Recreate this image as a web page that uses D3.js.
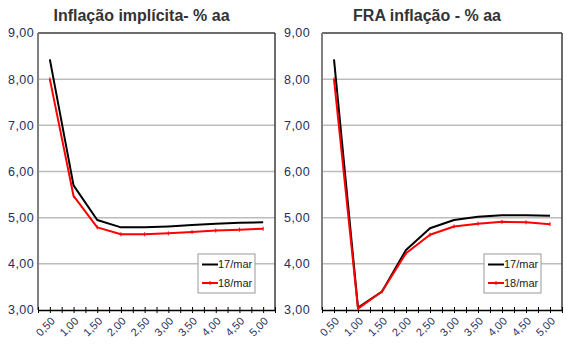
<!DOCTYPE html>
<html>
<head>
<meta charset="utf-8">
<script src="https://cdn.jsdelivr.net/npm/d3@7"></script>
<style>
  html, body { margin: 0; padding: 0; background: #fff; }
  svg { display: block; font-family: Arial, "Liberation Sans", sans-serif; }
</style>
</head>
<body>
<svg id="chart" width="567" height="348"></svg>
<script>
// Prazos (anos) e rótulos do eixo horizontal
const tenors = [0.5, 1.0, 1.5, 2.0, 2.5, 3.0, 3.5, 4.0, 4.5, 5.0];
const tenorLabels = ["0,50", "1,00", "1,50", "2,00", "2,50", "3,00", "3,50", "4,00", "4,50", "5,00"];
const yTicks = [3, 4, 5, 6, 7, 8, 9];
const yTickLabels = ["3,00", "4,00", "5,00", "6,00", "7,00", "8,00", "9,00"];
const seriesNames = ["17/mar", "18/mar"];
const seriesColors = ["#000000", "#ff0000"];

// Inflação implícita (% a.a.)
const implicit17 = [8.43, 5.70, 4.95, 4.79, 4.79, 4.81, 4.84, 4.87, 4.89, 4.90];
const implicit18 = [8.00, 5.47, 4.79, 4.64, 4.64, 4.66, 4.69, 4.72, 4.74, 4.76];
// FRA de inflação (% a.a.)
const fra17 = [8.43, 3.05, 3.40, 4.30, 4.77, 4.95, 5.02, 5.05, 5.05, 5.04];
const fra18 = [8.00, 3.03, 3.40, 4.23, 4.63, 4.81, 4.87, 4.91, 4.90, 4.86];

const panels = [
  { title: "Inflação implícita- % aa", x0: 38, x1: 275, series: [implicit17, implicit18], legendX: 198, labelGap: 4 },
  { title: "FRA inflação - % aa", x0: 322, x1: 562, series: [fra17, fra18], legendX: 484, labelGap: 12 }
];

const svg = d3.select("#chart");
const plotTop = 33, plotBottom = 310;
const labelColor = "#26305a";

panels.forEach(p => {
  const g = svg.append("g");
  const x = d3.scaleLinear().domain([0.25, 5.25]).range([p.x0, p.x1]);
  const y = d3.scaleLinear().domain([3, 9]).range([plotBottom, plotTop]);

  // Grade horizontal
  g.selectAll("line.grid").data(yTicks.filter(v => v > 3 && v < 9)).join("line")
    .attr("x1", p.x0).attr("x2", p.x1)
    .attr("y1", d => y(d)).attr("y2", d => y(d))
    .attr("stroke", "#bcbcbc").attr("stroke-width", 1.5);

  // Moldura da área de plotagem
  g.append("line").attr("x1", p.x0).attr("x2", p.x1).attr("y1", plotTop).attr("y2", plotTop)
    .attr("stroke", "#3c3c3c").attr("stroke-width", 1.5);
  g.append("line").attr("x1", p.x1).attr("x2", p.x1).attr("y1", plotTop).attr("y2", plotBottom)
    .attr("stroke", "#3c3c3c").attr("stroke-width", 1.5);
  g.append("line").attr("x1", p.x0).attr("x2", p.x0).attr("y1", plotTop).attr("y2", plotBottom)
    .attr("stroke", "#808080").attr("stroke-width", 2);

  // Rótulos do eixo vertical
  g.selectAll("text.ylab").data(yTicks).join("text")
    .attr("x", p.x0 - p.labelGap).attr("y", d => y(d))
    .attr("dy", "0.35em").attr("text-anchor", "end")
    .attr("font-size", 12.5).attr("letter-spacing", 0.4).attr("fill", labelColor)
    .text((d, i) => yTickLabels[i]);

  // Eixo horizontal com marcas cruzando a linha
  const tickVals = d3.range(0, 21).map(i => 0.25 + i * 0.25);
  const xAxis = d3.axisBottom(x).tickValues(tickVals).tickSize(0).tickFormat("");
  const ax = g.append("g").attr("transform", `translate(0,${plotBottom})`).call(xAxis);
  ax.select(".domain").attr("stroke", "#000").attr("stroke-width", 1.5);
  ax.selectAll(".tick line").attr("y1", -3).attr("y2", 3).attr("stroke", "#000").attr("stroke-width", 1);

  g.selectAll("text.xlab").data(tenors).join("text")
    .attr("transform", d => `translate(${x(d) + 3},${plotBottom + 9}) rotate(-45)`)
    .attr("text-anchor", "end").attr("dy", "0.35em")
    .attr("font-size", 11).attr("fill", labelColor)
    .text((d, i) => tenorLabels[i]);

  // Séries
  const line = d3.line().x((d, i) => x(tenors[i])).y(d => y(d));
  p.series.forEach((s, k) => {
    g.append("path").datum(s)
      .attr("d", line).attr("fill", "none")
      .attr("stroke", seriesColors[k]).attr("stroke-width", 2)
      .attr("stroke-linejoin", "round");
    if (k === 1) {
      g.selectAll(null).data(s).join("line")
        .attr("x1", (d, i) => x(tenors[i])).attr("x2", (d, i) => x(tenors[i]))
        .attr("y1", d => y(d) - 2).attr("y2", d => y(d) + 2)
        .attr("stroke", seriesColors[k]).attr("stroke-width", 1);
    }
  });

  // Título
  g.append("text").attr("x", (p.x0 + p.x1) / 2 - 15).attr("y", 21)
    .attr("text-anchor", "middle").attr("font-size", 16).attr("font-weight", "bold")
    .attr("fill", "#333").text(p.title);

  // Legenda
  const lg = g.append("g").attr("transform", `translate(${p.legendX},254)`);
  lg.append("rect").attr("width", 57).attr("height", 39)
    .attr("fill", "#fff").attr("stroke", "#999").attr("stroke-width", 1);
  seriesNames.forEach((n, k) => {
    const yy = 10.5 + k * 18.5;
    lg.append("line").attr("x1", 4).attr("x2", 20).attr("y1", yy).attr("y2", yy)
      .attr("stroke", seriesColors[k]).attr("stroke-width", 2);
    if (k === 1) {
      lg.append("line").attr("x1", 12).attr("x2", 12).attr("y1", yy - 2).attr("y2", yy + 2)
        .attr("stroke", seriesColors[k]).attr("stroke-width", 1);
    }
    lg.append("text").attr("x", 20).attr("y", yy).attr("dy", "0.35em")
      .attr("font-size", 11).attr("fill", "#222").text(n);
  });
});
</script>
</body>
</html>
